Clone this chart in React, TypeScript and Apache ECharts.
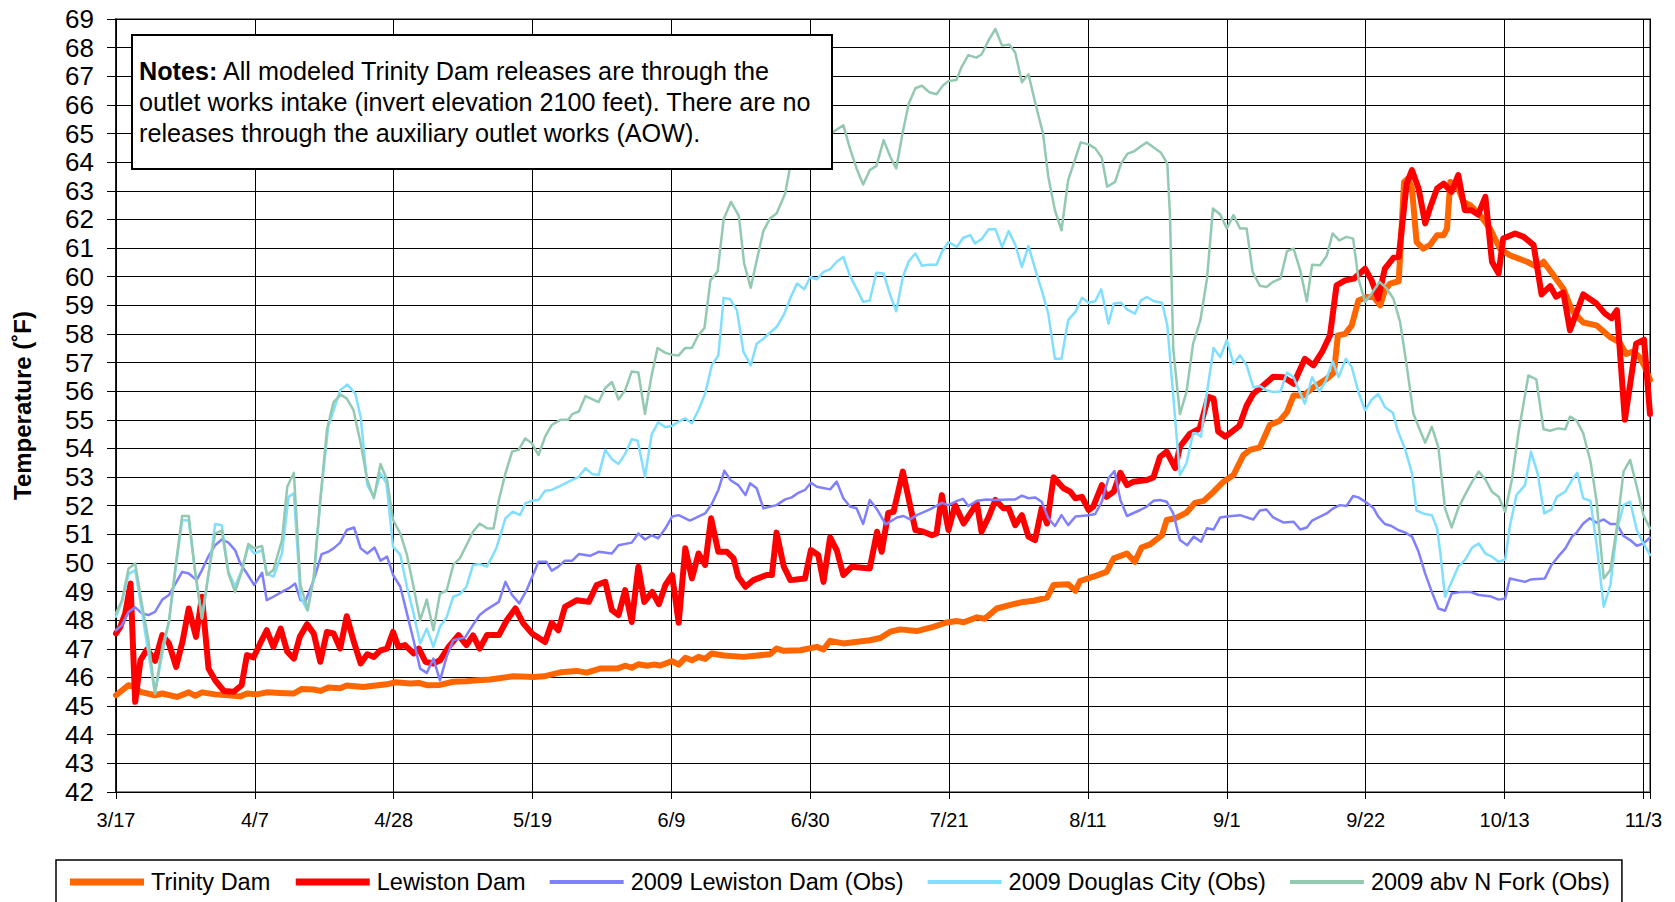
import React, { useEffect, useRef } from 'react';
import * as echarts from 'echarts';

const FONT = '"Liberation Sans", Arial, Helvetica, sans-serif';

// x = days after 3/17
const dateTicks = ['3/17', '4/7', '4/28', '5/19', '6/9', '6/30', '7/21', '8/11', '9/1', '9/22', '10/13', '11/3'];
const tempTicks = { min: 42, max: 69, step: 1 };

const trinityDam: [number, number][] = [
  [0, 45.38], [1.9, 45.73], [2.7, 45.67], [3.7, 45.5], [5.9, 45.38], [7, 45.44], [9.2, 45.32], [11, 45.48], [12, 45.36], [13, 45.48],
  [15, 45.41], [18.8, 45.34], [19.8, 45.44], [21.3, 45.41], [22.8, 45.48], [24.8, 45.46], [26.9, 45.44], [28.1, 45.6], [29.9, 45.58],
  [30.9, 45.53], [32.1, 45.65], [33.9, 45.62], [34.9, 45.72], [37.4, 45.67], [40.9, 45.76], [42.2, 45.83], [44.5, 45.79], [45.8, 45.81],
  [47, 45.73], [49, 45.74], [51, 45.85], [53, 45.87], [54.6, 45.9], [56.6, 45.93], [60.1, 46.04], [63.2, 46.02], [64.7, 46.04],
  [67.2, 46.18], [69.7, 46.23], [71.2, 46.17], [73.2, 46.31], [75.8, 46.31], [77, 46.41], [78, 46.34], [79, 46.46], [80.3, 46.41],
  [81.3, 46.45], [82.3, 46.42], [84.1, 46.57], [85.1, 46.45], [86.1, 46.69], [87.1, 46.6], [88.1, 46.72], [89.1, 46.65], [90.1, 46.84],
  [91.9, 46.77], [94.9, 46.72], [98.9, 46.81], [99.9, 47.01], [101, 46.93], [103.5, 46.95], [106, 47.07], [107, 46.98], [108, 47.28],
  [110, 47.19], [114, 47.3], [115.6, 47.38], [117.1, 47.6], [118.6, 47.68], [121.1, 47.62], [123.6, 47.77], [125.6, 47.92],
  [127.2, 47.97], [128.2, 47.93], [130.2, 48.1], [131.4, 48.05], [133.2, 48.41], [135.7, 48.56], [137.2, 48.64], [138.8, 48.68],
  [140.8, 48.79], [141.8, 49.23], [144, 49.26], [145.1, 49.03], [145.8, 49.37], [147.8, 49.52], [149.8, 49.69], [150.9, 50.16],
  [152.9, 50.33], [154.1, 50.04], [155.1, 50.54], [156.4, 50.65], [158.2, 50.97], [158.9, 51.5], [160.2, 51.56], [161.9, 51.76],
  [163.2, 52.1], [164.5, 52.17], [166, 52.49], [167.5, 52.84], [169, 53.07], [170.5, 53.77], [171.5, 53.95], [173, 54.04],
  [174.5, 54.82], [176, 54.97], [177.1, 55.27], [178.1, 55.85], [179.6, 55.85], [181.1, 56.14], [183.1, 56.43], [184.2, 56.65],
  [184.8, 57.95], [185.9, 58.0], [186.9, 58.3], [187.9, 59.17], [189.2, 59.29], [190.2, 59.29], [191.2, 59.0], [191.9, 59.52],
  [192.7, 59.76], [194, 59.84], [194.8, 63.31], [195.4, 63.43], [196, 63.08], [196.7, 61.21], [197.7, 60.98], [198.7, 61.1],
  [199.8, 61.45], [200.8, 61.45], [201.3, 61.68], [201.8, 63.31], [202.8, 63.2], [203.8, 62.61], [204.8, 62.5], [206.3, 62.15],
  [207.8, 61.68], [209.3, 60.98], [210.8, 60.75], [213.4, 60.52], [214.9, 60.34], [215.9, 60.52], [217.4, 60.05], [218.9, 59.58],
  [219.9, 59.0], [220.4, 58.77], [221.9, 58.4], [223.9, 58.3], [225.9, 57.9], [227.4, 57.7], [228.4, 57.3], [229.4, 57.38],
  [230.4, 57.2], [231.2, 56.86], [232, 56.4],
];

const lewistonDam: [number, number][] = [
  [0, 47.54], [0.65, 47.77], [1.4, 48.24], [2.2, 49.28], [2.9, 45.15], [3.7, 46.6], [4.7, 46.98], [5.9, 46.58], [7, 47.48], [8, 47.19],
  [9.1, 46.37], [10.1, 47.3], [11, 48.41], [12.1, 47.42], [13, 48.82], [14, 46.31], [15, 45.9], [16.3, 45.53], [17.8, 45.5], [19, 45.73],
  [19.8, 46.78], [20.8, 46.7], [21.8, 47.19], [22.8, 47.65], [23.8, 47.07], [24.9, 47.71], [25.9, 46.9], [26.9, 46.66], [27.8, 47.42],
  [28.9, 47.86], [29.9, 47.54], [30.9, 46.55], [31.9, 47.59], [32.9, 47.54], [33.9, 47.01], [34.9, 48.14], [35.9, 47.3], [37, 46.49],
  [38, 46.81], [39, 46.72], [40, 46.95], [41, 47.01], [41.9, 47.59], [42.7, 47.07], [43.7, 47.13], [45, 46.84], [45.8, 47.01],
  [46.8, 46.55], [48, 46.49], [49, 46.6], [50.3, 47.07], [51.8, 47.48], [53, 47.13], [54, 47.47], [55, 47.01], [56.1, 47.48],
  [57.9, 47.48], [59.1, 48.0], [60.4, 48.41], [61.6, 47.89], [62.9, 47.54], [64.9, 47.24], [65.9, 47.91], [66.9, 47.65], [67.9, 48.47],
  [69.7, 48.7], [71.5, 48.64], [72.7, 49.23], [74, 49.34], [75, 48.35], [76, 48.18], [77, 49.05], [78, 47.94], [79, 49.87],
  [79.9, 48.64], [81.1, 48.99], [82.1, 48.56], [83.1, 49.23], [84.1, 49.58], [85.1, 47.91], [86.1, 50.51], [87.1, 49.46],
  [88.1, 50.33], [89.1, 49.93], [90, 51.56], [91.1, 50.39], [92.4, 50.39], [93.4, 50.16], [94.1, 49.52], [95.2, 49.17], [96.4, 49.4],
  [98.4, 49.58], [99.2, 49.58], [99.9, 51.06], [101, 49.87], [102, 49.4], [104.2, 49.46], [105.1, 50.45], [106.2, 50.28], [107, 49.34],
  [108, 50.89], [109, 50.45], [110, 49.58], [111.3, 49.87], [114, 49.81], [115.1, 51.09], [115.8, 50.39], [116.8, 51.75],
  [117.6, 51.79], [119, 53.19], [120.9, 51.15], [122.1, 51.09], [123.4, 50.97], [124.1, 51.03], [124.9, 52.37], [125.9, 51.15],
  [126.9, 52.02], [128.2, 51.38], [130.2, 52.08], [130.9, 51.09], [132, 51.62], [133, 52.2], [134.2, 51.91], [135, 51.91], [136, 51.32],
  [137, 51.67], [138, 50.92], [139, 50.8], [140, 51.91], [140.8, 51.38], [141.8, 52.99], [143.3, 52.61], [144.3, 52.49], [145.1, 52.26],
  [146.1, 52.31], [147.1, 51.85], [147.8, 51.97], [149.1, 52.72], [149.8, 52.31], [150.9, 52.49], [151.9, 53.15], [152.9, 52.72],
  [153.9, 52.84], [155.9, 52.9], [156.9, 52.99], [157.9, 53.71], [158.9, 53.89], [160.2, 53.31], [160.9, 54.06], [162.4, 54.51],
  [163.9, 54.7], [165.2, 55.8], [166, 55.74], [166.7, 54.59], [167.8, 54.41], [169.9, 54.79], [171, 55.5], [172, 55.91], [173.5, 56.2],
  [175, 56.5], [176.6, 56.49], [178.1, 56.26], [179.8, 57.13], [181.1, 56.9], [182.4, 57.37], [183.6, 57.95], [184.6, 59.7],
  [185.9, 59.87], [187.2, 59.93], [188.9, 60.28], [189.9, 59.87], [190.9, 59.23], [191.9, 60.28], [193.2, 60.66], [194, 60.69],
  [195.2, 63.25], [196, 63.72], [197, 63.08], [198, 61.86], [198.7, 62.38], [199.8, 63.08], [200.8, 63.25], [202, 62.96], [203, 63.55],
  [204, 62.32], [205, 62.32], [206, 62.17], [207.1, 62.79], [208.1, 60.52], [209.1, 60.11], [209.8, 61.33], [211.6, 61.51],
  [212.9, 61.39], [214.4, 61.1], [215.6, 59.38], [216.9, 59.67], [217.8, 59.3], [218.9, 59.45], [219.9, 58.13], [221.9, 59.38],
  [223.9, 59.06], [225.2, 58.71], [226.2, 58.55], [227, 58.83], [228.2, 55.0], [229.9, 57.66], [231.1, 57.8], [232, 55.2],
];

const lewistonObs: [number, number][] = [
  [0, 47.65], [0.9, 47.83], [1.9, 48.29], [2.9, 48.45], [3.9, 48.24], [4.9, 48.18], [5.9, 48.29], [7, 48.72], [8, 48.88], [9, 49.28],
  [10, 49.69], [11, 49.63], [12.2, 49.4], [13, 49.75], [14, 50.24], [15, 50.62], [16, 50.82], [17, 50.71], [18, 50.45], [18.8, 49.98],
  [19.8, 49.63], [20.9, 49.23], [22.1, 49.66], [22.8, 48.7], [23.8, 48.82], [25.1, 48.99], [26.1, 49.11], [27.1, 49.28], [27.9, 48.7],
  [28.6, 48.64], [29.9, 49.4], [31.1, 50.31], [32.1, 50.39], [32.9, 50.51], [33.9, 50.71], [34.9, 51.15], [36, 51.24], [37, 50.51],
  [38, 50.33], [39.1, 50.54], [40, 50.08], [41, 50.22], [41.9, 49.58], [43, 49.17], [44, 48.24], [45, 47.3], [46, 46.31], [47, 46.16],
  [48, 46.66], [49, 45.9], [50, 46.72], [51, 47.3], [52.8, 47.4], [53.8, 47.77], [55, 48.18], [56.1, 48.38], [57.9, 48.64],
  [58.9, 49.34], [59.9, 48.88], [61, 48.59], [62.1, 49.05], [63.9, 50.04], [65.1, 50.04], [65.9, 49.73], [66.9, 49.87], [67.9, 50.08],
  [69, 50.08], [70, 50.31], [71.7, 50.25], [73, 50.39], [75, 50.33], [76, 50.62], [78, 50.71], [79, 51.03], [80, 50.82], [81, 50.97],
  [82, 50.86], [83.1, 51.21], [84.1, 51.62], [85.1, 51.67], [86.8, 51.48], [89.1, 51.73], [90.1, 52.06], [91.1, 52.55], [92, 53.22],
  [92.9, 52.9], [94.1, 52.72], [95.2, 52.37], [95.9, 52.78], [96.9, 52.61], [97.9, 51.91], [99.9, 52.02], [101.2, 52.22], [102.2, 52.29],
  [103.2, 52.45], [104.2, 52.55], [105.1, 52.8], [106, 52.66], [108, 52.57], [109, 52.84], [110, 52.26], [111, 51.97], [112, 51.91],
  [113, 51.36], [114, 52.2], [115.1, 51.87], [116.4, 51.35], [118.1, 51.59], [119.1, 51.64], [120.1, 51.52], [121.1, 51.67],
  [123.1, 51.87], [124.9, 52.1], [125.9, 52.02], [127.2, 52.17], [128.1, 52.24], [128.9, 51.99], [130.2, 52.17], [131.7, 52.22],
  [133, 52.2], [135, 52.22], [136, 52.22], [137, 52.35], [138, 52.26], [139, 52.29], [140, 52.14], [141, 51.56], [142, 51.29],
  [143, 51.67], [144, 51.32], [145.1, 51.62], [147.1, 51.67], [148.1, 51.71], [149.1, 52.14], [150.1, 52.96], [151, 53.21],
  [151.9, 52.2], [152.9, 51.64], [154.9, 51.85], [155.9, 51.97], [156.9, 52.17], [157.9, 52.2], [158.9, 52.14], [159.9, 51.73],
  [160.9, 50.8], [162, 50.62], [163, 50.92], [164.1, 50.74], [165, 51.21], [166, 51.17], [167, 51.59], [168, 51.62], [170, 51.67],
  [172, 51.52], [173, 51.83], [174, 51.87], [175, 51.59], [176.6, 51.41], [178.1, 51.44], [179.1, 51.17], [180.1, 51.24],
  [180.9, 51.48], [182.1, 51.62], [183.1, 51.73], [184.1, 51.91], [185.1, 52.02], [186.1, 51.99], [187.1, 52.34], [187.9, 52.29],
  [189.2, 52.1], [190.2, 51.91], [190.9, 51.62], [191.9, 51.36], [192.9, 51.29], [193.9, 51.15], [195, 51.06], [196, 50.92],
  [197, 50.39], [198, 49.63], [199, 48.99], [200, 48.41], [201, 48.33], [202, 48.93], [203.5, 48.99], [204.8, 48.99], [206.1, 48.88],
  [207.8, 48.84], [209.1, 48.72], [210.1, 48.76], [210.8, 49.46], [213.1, 49.34], [213.9, 49.42], [216.1, 49.46], [217.1, 49.93],
  [218.1, 50.22], [219.2, 50.51], [220.2, 50.92], [220.9, 51.06], [221.9, 51.38], [222.9, 51.56], [223.9, 51.41], [225, 51.52],
  [226, 51.36], [227, 51.36], [228, 50.94], [229, 50.8], [230, 50.6], [231, 50.68], [232, 50.89],
];

const douglasCityObs: [number, number][] = [
  [0, 48.12], [0.9, 48.64], [1.9, 49.61], [2.9, 49.75], [3.9, 48.35], [4.9, 46.84], [5.9, 45.44], [7, 46.84], [8, 47.94], [9, 49.75],
  [10, 51.5], [11, 51.48], [12, 49.63], [13, 48.06], [14, 49.63], [15, 51.36], [16, 51.32], [17, 49.69], [18, 49.17], [19, 49.75],
  [20, 50.59], [20.9, 50.33], [22.1, 50.45], [22.8, 49.63], [23.8, 49.52], [25.1, 50.33], [26.1, 52.31], [26.9, 52.43], [27.9, 48.82],
  [28.9, 48.35], [29.9, 49.4], [30.9, 52.2], [32.1, 54.76], [33.9, 56.03], [35, 56.23], [36.2, 55.91], [37, 55.1], [38, 52.72],
  [39, 52.31], [40, 53.13], [40.9, 52.78], [41.9, 50.57], [43, 50.28], [44, 49.17], [45, 48.24], [46, 47.19], [47, 47.71], [48, 47.07],
  [49, 47.77], [50, 48.1], [51, 48.82], [52, 48.91], [53, 49.17], [54, 49.93], [55, 49.96], [56.1, 49.87], [57.5, 50.5], [58.9, 51.56],
  [60, 51.79], [61.1, 51.67], [61.9, 52.08], [62.9, 52.17], [63.9, 52.2], [64.9, 52.52], [65.9, 52.55], [67.2, 52.69], [68.7, 52.87],
  [70, 53.01], [71, 53.31], [72, 53.11], [73, 53.07], [74, 53.95], [75, 53.62], [76, 53.46], [77, 53.81], [78, 54.32], [78.9, 54.27],
  [80, 53.01], [81, 54.48], [82, 54.91], [83.1, 54.74], [84.1, 54.79], [85.1, 54.94], [86.1, 55.05], [87.1, 54.88], [88.1, 55.35],
  [89.1, 55.91], [90.1, 56.9], [91.1, 57.25], [91.9, 59.26], [92.9, 59.21], [93.9, 58.83], [94.9, 57.37], [96, 56.9], [96.9, 57.66],
  [97.9, 57.83], [98.9, 58.04], [99.9, 58.24], [101, 58.67], [102, 59.26], [103, 59.76], [104.1, 59.56], [105, 59.99], [106, 59.91],
  [107, 60.17], [108, 60.26], [109, 60.52], [110, 60.69], [111, 60.03], [112, 59.58], [113, 59.12], [114, 59.17], [115, 60.14],
  [116.1, 60.11], [117.1, 59.35], [118, 58.79], [119, 59.99], [119.9, 60.54], [120.9, 60.81], [121.9, 60.38], [122.9, 60.42],
  [124.1, 60.42], [124.9, 60.86], [125.9, 61.21], [127.2, 61.04], [128.1, 61.35], [129.2, 61.45], [129.9, 61.16], [130.9, 61.31],
  [132, 61.66], [133, 61.66], [134, 61.04], [135, 61.59], [136, 61.12], [137, 60.34], [138, 61.07], [139, 60.28], [140, 59.52],
  [141, 58.71], [142, 57.13], [143, 57.13], [144, 58.48], [145.1, 58.77], [146.1, 59.26], [147.1, 59.09], [148.1, 59.14], [149, 59.56],
  [150.1, 58.36], [150.9, 59.06], [152, 59.09], [152.9, 58.86], [154.1, 58.71], [155, 59.17], [155.9, 59.29], [157, 59.14],
  [158.2, 59.09], [159, 58.3], [160.9, 53.07], [161.9, 53.48], [162.9, 54.53], [163.4, 54.53], [164.1, 54.41], [164.7, 55.5],
  [166, 57.51], [167, 57.19], [168, 57.78], [169, 56.96], [170, 57.25], [171, 56.9], [172, 56.14], [173, 56.18], [174, 56.03],
  [175, 55.97], [176.1, 55.99], [177.1, 56.65], [178.1, 56.49], [178.8, 56.09], [179.8, 55.56], [180.9, 56.49], [182, 55.99],
  [182.9, 56.32], [184, 57.04], [184.9, 56.49], [186, 57.13], [186.9, 56.84], [187.9, 55.97], [188.9, 55.33], [189.9, 55.7],
  [190.9, 55.9], [191.9, 55.45], [193.1, 55.25], [193.9, 54.59], [195, 53.95], [196, 53.13], [196.7, 51.83], [197.7, 51.73],
  [199, 51.67], [199.8, 51.21], [200.3, 50.33], [201, 48.82], [202, 49.34], [203, 49.87], [204, 50.1], [205.1, 50.54], [206.1, 50.68],
  [207.1, 50.33], [208.1, 50.22], [209.1, 50.04], [210.1, 50.12], [210.8, 51.27], [211.8, 52.37], [213.1, 52.72], [214, 53.89],
  [215, 53.13], [216, 51.73], [217.1, 51.87], [217.9, 52.31], [219.2, 52.49], [220.2, 52.9], [221, 53.15], [221.9, 52.26], [223, 52.17],
  [224, 50.51], [225, 48.47], [226, 49.23], [227, 51.15], [228, 52.02], [229, 52.14], [230, 51.15], [231, 50.68], [232, 50.28],
];

const nForkObs: [number, number][] = [
  [0, 48.24], [0.9, 48.7], [1.9, 49.81], [2.9, 49.98], [3.9, 48.59], [4.9, 47.3], [5.9, 45.44], [7, 47.07], [8, 47.94], [9, 49.87],
  [10, 51.64], [11, 51.64], [12, 49.63], [13, 48.06], [14, 49.63], [15, 51.03], [16, 51.13], [17, 49.63], [18, 48.99], [19, 49.69],
  [20, 50.66], [20.9, 50.51], [22.1, 50.59], [22.8, 49.58], [23.8, 49.75], [25.1, 50.8], [25.9, 52.66], [26.9, 53.15], [27.9, 49.23],
  [29, 48.35], [29.9, 49.52], [30.9, 52.2], [31.9, 54.65], [32.9, 55.62], [34, 55.88], [34.9, 55.74], [35.9, 55.35], [37, 54.18],
  [38, 52.9], [39, 52.26], [40, 53.46], [41, 52.9], [41.9, 51.5], [43, 51.03], [44, 50.28], [45, 49.17], [46, 48.0], [47, 48.72],
  [48, 47.65], [49, 48.93], [50, 49.03], [51, 49.93], [52, 50.16], [53, 50.62], [54, 51.09], [55, 51.38], [56.1, 51.21], [57.1, 51.2],
  [57.9, 52.2], [58.9, 53.13], [59.9, 53.89], [60.9, 53.95], [61.9, 54.35], [62.9, 54.18], [63.9, 53.77], [64.9, 54.41], [65.9, 54.82],
  [67.2, 55.0], [68.4, 55.0], [69, 55.2], [70, 55.29], [71, 55.83], [73, 55.62], [74, 56.11], [75, 56.32], [76, 55.71], [77, 56.03],
  [78, 56.69], [79, 56.65], [80, 55.21], [81, 56.55], [81.9, 57.51], [83.1, 57.34], [84.1, 57.27], [85.1, 57.25], [86.1, 57.51],
  [87.1, 57.51], [88, 57.93], [89, 58.21], [89.9, 59.87], [91, 60.19], [91.9, 62.01], [93, 62.61], [94.2, 62.12], [95, 60.46],
  [96, 59.61], [96.9, 60.57], [97.9, 61.59], [98.9, 62.03], [99.9, 62.21], [101.2, 62.9], [102, 63.9], [108.5, 65.06], [110, 65.29],
  [111, 64.48], [112, 63.78], [113, 63.22], [114, 63.72], [115, 63.87], [116.1, 64.77], [117.1, 64.19], [118, 63.78], [119, 65.06],
  [119.9, 66.05], [120.9, 66.58], [121.9, 66.67], [123, 66.44], [124.1, 66.37], [125.1, 66.69], [125.9, 66.83], [127.1, 66.87],
  [127.9, 67.33], [128.9, 67.74], [130.1, 67.65], [130.9, 67.76], [132, 68.27], [133, 68.65], [134, 68.07], [135.1, 68.11],
  [136, 67.83], [137, 66.79], [138, 67.07], [139, 66.09], [140.2, 65.0], [141, 63.49], [142, 62.32], [143, 61.62], [144, 63.37],
  [145.1, 64.13], [145.9, 64.69], [147.1, 64.62], [148.1, 64.48], [149.1, 64.15], [149.9, 63.14], [151.1, 63.31], [152, 63.95],
  [153, 64.3], [154, 64.38], [154.9, 64.54], [155.9, 64.69], [157, 64.5], [158, 64.34], [159, 63.95], [159.4, 62.15], [159.9, 57.48],
  [160.9, 55.2], [161.9, 55.97], [162.9, 57.66], [164, 58.48], [165, 59.93], [165.9, 62.38], [167, 62.17], [168, 61.68], [169, 62.15],
  [170, 61.68], [171, 61.68], [171.9, 60.17], [173, 59.68], [174, 59.64], [175, 59.82], [176.1, 59.93], [177.1, 60.89], [178.1, 60.98],
  [179.1, 60.22], [180.1, 59.14], [180.9, 60.42], [182.1, 60.4], [183.1, 60.72], [184, 61.51], [185, 61.27], [186.1, 61.39],
  [187.1, 61.33], [187.9, 59.93], [188.9, 59.12], [189.9, 59.41], [191.1, 59.82], [192.2, 59.58], [193.2, 59.23], [194.2, 58.42],
  [195.2, 56.9], [196.2, 55.23], [197, 54.76], [198, 54.2], [199, 54.76], [200, 54.04], [201, 51.91], [202, 51.24], [203, 51.91],
  [204, 52.37], [205.1, 52.84], [206.1, 53.19], [207.1, 52.92], [208.1, 52.49], [209.1, 52.31], [210.1, 51.79], [211.1, 52.9],
  [212.1, 54.53], [213.6, 56.55], [214.8, 56.41], [215.9, 54.67], [216.9, 54.62], [218.1, 54.7], [219.2, 54.67], [219.9, 55.11],
  [220.9, 54.97], [221.9, 54.53], [223, 53.54], [223.9, 52.2], [225, 49.46], [226, 49.75], [227, 51.27], [228, 53.19], [229, 53.6],
  [230, 52.66], [231, 51.67], [232, 51.21],
];

const seriesNames = ['Trinity Dam', 'Lewiston Dam', '2009 Lewiston Dam (Obs)', '2009 Douglas City (Obs)', '2009 abv N Fork (Obs)'];
const seriesColors = ['#FF6600', '#FF0000', '#8080FF', '#80DFFF', '#93C9B0'];
const seriesData = [trinityDam, lewistonDam, lewistonObs, douglasCityObs, nForkObs];
const seriesWidths = [6, 6, 2.5, 2.5, 2.5];
const legendWidths = [7, 7, 4, 4, 4];

const notesText =
  '{b|Notes:} All modeled Trinity Dam releases are through the\n' +
  'outlet works intake (invert elevation 2100 feet). There are no\n' +
  'releases through the auxiliary outlet works (AOW).';

export default function App() {
  const ref = useRef<HTMLDivElement>(null);

  useEffect(() => {
    document.body.style.margin = '0';
    const chart = echarts.init(ref.current as HTMLDivElement, null, { renderer: 'svg' });
    const option: any = {
      animation: false,
      backgroundColor: '#ffffff',
      textStyle: { fontFamily: FONT },
      grid: {
        left: 116,
        top: 19,
        right: 25,
        bottom: 110,
        show: true,
        borderColor: '#888888',
        borderWidth: 2,
        backgroundColor: 'transparent',
      },
      xAxis: {
        type: 'value',
        min: 0,
        max: 232,
        interval: 21,
        axisLine: { show: false },
        axisTick: { show: true, length: 7, lineStyle: { color: '#000', width: 1 } },
        axisLabel: {
          color: '#000',
          fontSize: 20,
          fontFamily: FONT,
          margin: 18,
          formatter: (v: number) => (v % 21 === 0 ? dateTicks[v / 21] ?? '' : ''),
        },
        splitLine: { show: true, lineStyle: { color: '#000', width: 1 } },
      },
      yAxis: {
        type: 'value',
        min: tempTicks.min,
        max: tempTicks.max,
        interval: tempTicks.step,
        name: 'Temperature (˚F)',
        nameLocation: 'middle',
        nameGap: 82,
        nameTextStyle: { color: '#000', fontSize: 24, fontWeight: 'bold', fontFamily: FONT },
        axisLine: { show: true, lineStyle: { color: '#000', width: 1.5 } },
        axisTick: { show: true, length: 9, lineStyle: { color: '#000', width: 1 } },
        axisLabel: { color: '#000', fontSize: 26, fontFamily: FONT, margin: 22 },
        splitLine: { show: true, lineStyle: { color: '#000', width: 1 } },
      },
      legend: {
        left: 56,
        top: 860,
        orient: 'horizontal',
        itemWidth: 74,
        itemHeight: 1,
        itemGap: 22,
        padding: [10, 12, 10, 10.5],
        borderColor: '#000',
        borderWidth: 1.5,
        selectedMode: false,
        textStyle: { color: '#000', fontSize: 23.5, fontFamily: FONT, padding: [0, 0, 0, 2] },
        data: seriesNames.map((n, i) => ({
          name: n,
          lineStyle: { width: legendWidths[i], color: seriesColors[i], cap: 'butt' },
          itemStyle: { opacity: 0 },
        })),
      },
      series: seriesNames.map((n, i) => ({
        name: n,
        type: 'line',
        data: seriesData[i],
        symbol: 'none',
        showSymbol: false,
        color: seriesColors[i],
        lineStyle: { color: seriesColors[i], width: seriesWidths[i], join: 'round', cap: 'round' },
        z: 2 + i,
        silent: true,
      })),
      graphic: [
        {
          type: 'rect',
          z: 100,
          shape: { x: 132, y: 35, width: 700, height: 134 },
          style: { fill: '#ffffff', stroke: '#000000', lineWidth: 2 },
        },
        {
          type: 'text',
          z: 101,
          x: 139,
          y: 55,
          style: {
            text: notesText,
            fill: '#000',
            fontSize: 25.2,
            lineHeight: 31,
            fontFamily: FONT,
            verticalAlign: 'top',
            align: 'left',
            rich: {
              b: { fontWeight: 'bold', fontSize: 25.2, lineHeight: 31, fontFamily: FONT, fill: '#000' },
            },
          },
        },
      ],
    };
    chart.setOption(option);
    return () => chart.dispose();
  }, []);

  return <div ref={ref} style={{ width: 1675, height: 902 }} />;
}
